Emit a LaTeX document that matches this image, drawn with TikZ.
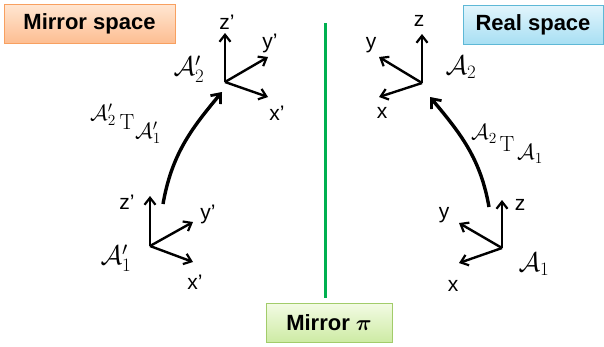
\RequirePackage{fix-cm}
\documentclass[tikz,border=0pt]{standalone}
\usepackage[no-math]{fontspec}
\setmainfont{Liberation Sans}
\usepackage{bm}
\usetikzlibrary{arrows.meta}
\definecolor{orTop}{HTML}{FFE6D2}
\definecolor{orBot}{HTML}{FDBE92}
\definecolor{orLine}{HTML}{F8A060}
\definecolor{blTop}{HTML}{E2F5FC}
\definecolor{blBot}{HTML}{A8DFF3}
\definecolor{blLine}{HTML}{5EB8D6}
\definecolor{grTop}{HTML}{F3FBE4}
\definecolor{grBot}{HTML}{CDEBA4}
\definecolor{grLine}{HTML}{A2CC6A}
\definecolor{mirror}{HTML}{00B050}
\begin{document}
\begin{tikzpicture}[x=1pt,y=-1pt,
  titlebox/.style={draw, line width=0.8pt, inner sep=0pt, font=\fontsize{22}{26}\selectfont\bfseries},
  axis/.style={line width=2.4pt, -{Straight Barb[length=7pt,width=11pt,line width=2.2pt]}},
  turn/.style={line width=3.4pt, -{Straight Barb[length=8pt,width=13pt,line width=2.8pt]}},
  alabel/.style={font=\fontsize{21}{24}\selectfont, inner sep=0pt},
  frame/.style={font=\fontsize{27}{30}\selectfont, inner sep=0pt},
  small/.style={font=\fontsize{22}{25}\selectfont, inner sep=0pt}]
\useasboundingbox (0,0) rectangle (604,346);
% boxes
\node[titlebox, draw=orLine, top color=orTop, bottom color=orBot, minimum width=171pt, minimum height=39pt] (ms) at (89.5,23.5) {Mirror space};
\node[titlebox, draw=blLine, top color=blTop, bottom color=blBot, minimum width=140pt, minimum height=39pt] (rs) at (533,24.5) {Real space};
\node[titlebox, draw=grLine, top color=grTop, bottom color=grBot, minimum width=126pt, minimum height=39pt] (mp) at (329,322.5) {Mirror $\bm{\pi}$};
% mirror line
\coordinate (mt) at (325,23);
\coordinate (mb) at (325,298);
\draw[mirror, line width=3pt] (mt) -- (mb);
% left top frame
\coordinate (o2p) at (225,82);
\coordinate (z2p) at (225,33);
\coordinate (y2p) at (268,57);
\coordinate (x2p) at (268,97);
\draw[axis] (o2p) -- (z2p);
\draw[axis] (o2p) -- (y2p);
\draw[axis] (o2p) -- (x2p);
\node[alabel] (lz2p) at (227,22) {z’};
\node[alabel] (ly2p) at (270,43) {y’};
\node[alabel] (lx2p) at (277,113) {x’};
\node[frame] (A2p) at (189,69) {$\mathcal{A}'_2$};
% left bottom frame
\coordinate (o1p) at (150,246);
\coordinate (z1p) at (150,196);
\coordinate (y1p) at (193,222);
\coordinate (x1p) at (193,262);
\draw[axis] (o1p) -- (z1p);
\draw[axis] (o1p) -- (y1p);
\draw[axis] (o1p) -- (x1p);
\node[alabel] (lz1p) at (127,202) {z’};
\node[alabel] (ly1p) at (208,214) {y’};
\node[alabel] (lx1p) at (195,282) {x’};
\node[frame] (A1p) at (116,258) {$\mathcal{A}'_1$};
% left transform
\coordinate (ls) at (163,204);
\coordinate (le) at (222,92);
\draw[turn] (ls) to[out=80, in=-130] (le);
\node[small] (lt1) at (103,115) {$\mathcal{A}'_2$};
\node[small] (lt2) at (127,122) {$\mathrm{T}$};
\node[small] (lt3) at (148,133) {$\mathcal{A}'_1$};
% right top frame
\coordinate (o2) at (422,83);
\coordinate (z2) at (422,34);
\coordinate (y2) at (379,57);
\coordinate (x2) at (379,97);
\draw[axis] (o2) -- (z2);
\draw[axis] (o2) -- (y2);
\draw[axis] (o2) -- (x2);
\node[alabel] (lz2) at (419,21) {z};
\node[alabel] (ly2) at (371,45) {y};
\node[alabel] (lx2) at (382,113) {x};
\node[frame] (A2) at (461,67) {$\mathcal{A}_2$};
% right bottom frame
\coordinate (o1) at (502,248);
\coordinate (z1) at (502,200);
\coordinate (y1) at (459,223);
\coordinate (x1) at (459,263);
\draw[axis] (o1) -- (z1);
\draw[axis] (o1) -- (y1);
\draw[axis] (o1) -- (x1);
\node[alabel] (lz1) at (520,205) {z};
\node[alabel] (ly1) at (444,215) {y};
\node[alabel] (lx1) at (453,286) {x};
\node[frame] (A1) at (534,264) {$\mathcal{A}_1$};
% right transform
\coordinate (rs1) at (489,207);
\coordinate (re) at (430,97);
\draw[turn] (rs1) to[out=100, in=-50] (re);
\node[small] (rt1) at (484,134) {$\mathcal{A}_2$};
\node[small] (rt2) at (507,144) {$\mathrm{T}$};
\node[small] (rt3) at (530,154) {$\mathcal{A}_1$};
\end{tikzpicture}
\end{document}
